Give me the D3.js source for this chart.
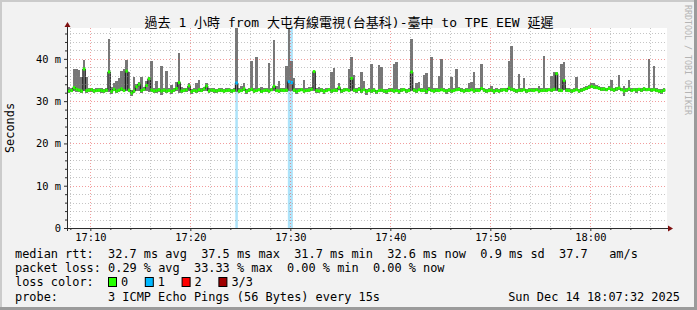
<!DOCTYPE html>
<html>
<head>
<meta charset="utf-8">
<script src="https://cdn.jsdelivr.net/npm/d3@7/dist/d3.min.js"></script>
<style>
  body { margin: 0; background: #f2f2f2; }
  svg { display: block; }
  text { font-family: "DejaVu Sans Mono", monospace; fill: #000; white-space: pre; }
</style>
</head>
<body>
<div id="viz"></div>
<script>
const colorSmoke = '#777777';
const colorAxis = '#2b2b2b';
const colorArrow = '#7f1010';
const colorGrid = 'rgba(140,140,140,0.5)';
const colorMGrid = 'rgba(230,60,60,0.5)';
const lossColors = ['#26ff00', '#00b8ff', '#ff0000', '#a00000'];
const lossBand = '#ade3fa';

// 240 samples, 15s apart, first one starts at 17:07:30
const medianRtt = [
  32.9, 32.4, 32.5, 33.2, 32.8, 32.6, 32.4, 37.6, 32.5, 32.6,
  32.7, 32.4, 32.5, 32.6, 32.5, 32.4, 32.6, 36.9, 32.3, 32.8,
  32.4, 32.6, 32.9, 32.5, 37.1, 32.6, 31.9, 32.4, 33.4, 34.0,
  32.5, 32.8, 33.7, 35.3, 32.6, 32.4, 32.5, 32.7, 32.4, 32.6,
  32.4, 32.5, 32.3, 32.6, 33.0, 34.4, 32.4, 32.5, 32.7, 33.6,
  32.3, 32.5, 32.4, 32.7, 32.5, 32.9, 33.6, 32.4, 32.6, 32.5,
  32.4, 32.6, 32.5, 32.4, 32.5, 32.6, 32.4, 32.5, 34.3, 32.4,
  32.5, 32.9, 32.3, 32.6, 32.8, 32.4, 32.5, 32.7, 32.3, 32.5,
  32.6, 32.4, 32.7, 33.5, 32.5, 32.4, 32.6, 32.5, 32.6, 34.6,
  34.4, 32.6, 32.3, 32.5, 32.7, 32.4, 32.5, 32.6, 32.8, 37.0,
  32.5, 32.4, 32.6, 32.3, 32.5, 32.7, 32.4, 32.6, 32.5, 33.2,
  32.4, 32.6, 32.7, 32.5, 35.4, 32.6, 32.5, 32.8, 32.4, 32.7,
  32.3, 32.5, 32.4, 32.6, 32.2, 32.5, 32.6, 32.4, 32.3, 32.5,
  32.6, 32.4, 32.5, 32.3, 32.6, 32.7, 32.4, 32.5, 36.9, 32.6,
  32.4, 32.7, 32.5, 32.6, 32.3, 32.8, 32.5, 32.4, 32.6, 32.5,
  32.7, 32.5, 32.4, 32.6, 32.4, 32.5, 32.7, 32.8, 32.5, 32.4,
  32.6, 32.5, 32.7, 32.4, 32.6, 32.5, 33.0, 32.6, 32.4, 32.5,
  32.6, 32.3, 32.5, 32.4, 32.6, 32.7, 32.5, 33.1, 32.8, 32.6,
  32.4, 32.6, 32.5, 32.7, 32.4, 32.5, 32.6, 32.5, 32.7, 32.4,
  32.5, 32.6, 32.5, 32.7, 32.6, 32.8, 36.5, 32.6, 32.5, 34.9,
  32.6, 32.5, 32.4, 32.5, 32.7, 32.4, 32.6, 32.8, 33.0, 33.3,
  33.5, 33.3, 33.2, 33.0, 32.8, 32.9, 32.7, 33.0, 32.8, 32.6,
  32.9, 33.1, 32.7, 32.4, 32.6, 32.9, 32.5, 32.7, 32.6, 32.8,
  32.6, 32.9, 32.7, 32.8, 32.6, 32.7, 32.5, 32.4, 32.3, 32.6
];

const minRtt = [
  32.3, 32.0, 32.1, 32.4, 32.2, 32.1, 31.9, 32.3, 32.0, 32.2,
  32.2, 31.9, 32.1, 32.2, 32.0, 31.9, 32.1, 32.2, 31.8, 32.3,
  32.0, 32.1, 32.4, 32.1, 32.3, 32.1, 31.3, 32.0, 32.4, 32.5,
  32.0, 32.3, 32.3, 32.2, 32.1, 31.9, 32.0, 32.2, 31.5, 32.1,
  32.0, 32.1, 31.8, 32.2, 32.4, 32.0, 31.9, 32.1, 32.2, 32.4,
  31.8, 32.1, 32.0, 32.2, 32.1, 32.4, 32.5, 32.0, 32.1, 32.0,
  32.0, 32.2, 32.1, 31.9, 32.1, 32.2, 32.0, 32.1, 32.2, 32.0,
  32.1, 32.4, 31.7, 32.2, 32.3, 32.0, 32.1, 32.3, 31.9, 32.1,
  32.2, 32.0, 32.3, 32.5, 32.1, 31.9, 32.2, 32.1, 32.2, 32.3,
  32.4, 32.2, 31.8, 32.1, 32.3, 32.0, 32.1, 32.2, 32.4, 32.5,
  32.0, 32.0, 32.2, 31.6, 32.1, 32.3, 32.0, 32.2, 32.1, 32.6,
  32.0, 32.2, 32.3, 32.1, 32.5, 32.2, 32.0, 32.4, 31.9, 32.3,
  31.5, 32.1, 32.0, 32.2, 31.6, 32.1, 32.2, 32.0, 31.8, 32.1,
  32.2, 32.0, 32.1, 31.7, 32.2, 32.3, 32.0, 32.1, 32.5, 32.2,
  32.0, 32.3, 32.1, 32.2, 31.8, 32.4, 32.1, 31.9, 32.2, 32.1,
  32.3, 32.1, 31.8, 32.2, 32.0, 32.1, 32.3, 32.4, 32.1, 31.9,
  32.2, 32.1, 32.3, 32.0, 32.2, 32.1, 32.6, 32.2, 31.9, 32.1,
  32.2, 31.6, 32.1, 32.0, 32.2, 32.3, 32.1, 32.6, 32.4, 32.2,
  32.0, 32.2, 32.1, 32.3, 31.9, 32.1, 32.2, 32.1, 32.3, 31.9,
  32.1, 32.2, 32.1, 32.3, 32.2, 32.4, 32.5, 32.2, 32.1, 32.6,
  32.2, 32.1, 32.0, 32.1, 32.3, 31.9, 32.2, 32.4, 32.6, 32.9,
  33.1, 32.9, 32.8, 32.6, 32.4, 32.5, 32.3, 32.6, 32.4, 32.2,
  32.5, 32.7, 32.3, 31.2, 32.2, 32.5, 32.1, 32.3, 31.9, 32.4,
  32.2, 32.5, 32.3, 32.4, 32.2, 32.3, 32.1, 31.9, 31.8, 32.2
];

const maxRtt = [
  35.3, 33.4, 33.0, 37.6, 37.6, 37.4, 35.7, 39.8, 35.6, 33.1,
  33.2, 32.9, 33.0, 33.1, 33.0, 32.9, 33.1, 44.7, 33.4, 34.2,
  34.8, 35.4, 37.2, 37.6, 39.8, 37.0, 32.6, 35.6, 34.0, 34.6,
  35.6, 33.3, 34.8, 35.8, 39.4, 33.0, 34.8, 33.2, 38.2, 33.2,
  37.1, 33.1, 33.8, 33.0, 34.5, 41.3, 33.4, 33.0, 33.2, 34.3,
  32.9, 33.0, 34.4, 35.0, 33.0, 33.3, 34.2, 33.0, 33.2, 33.0,
  32.9, 33.1, 33.0, 32.9, 33.0, 33.1, 32.9, 33.0, 47.3, 33.1,
  33.6, 34.4, 32.9, 33.1, 39.6, 33.0, 40.4, 33.2, 33.3, 33.0,
  33.1, 39.0, 33.2, 44.5, 33.6, 34.8, 33.2, 33.2, 38.2, 47.3,
  39.6, 35.4, 33.1, 33.0, 33.2, 34.9, 33.0, 33.3, 33.3, 37.2,
  33.0, 33.3, 33.1, 32.8, 33.0, 33.2, 37.0, 37.8, 33.1, 34.4,
  32.9, 33.1, 33.2, 37.6, 40.4, 36.2, 33.0, 33.3, 36.9, 34.7,
  32.8, 33.0, 38.9, 33.1, 32.7, 38.6, 38.0, 32.9, 32.8, 33.0,
  33.1, 38.9, 39.2, 32.8, 33.1, 33.2, 32.9, 33.0, 44.6, 33.1,
  34.4, 34.5, 33.0, 36.3, 36.6, 33.3, 40.4, 33.0, 33.1, 36.0,
  39.9, 33.0, 32.9, 33.1, 35.6, 33.0, 37.6, 33.3, 33.0, 32.9,
  33.1, 34.4, 34.5, 37.0, 33.1, 33.0, 38.7, 33.1, 32.9, 33.0,
  33.6, 32.8, 33.0, 32.9, 33.1, 33.2, 33.0, 39.6, 43.0, 33.1,
  32.9, 36.4, 33.0, 35.4, 32.9, 33.0, 33.1, 33.0, 33.2, 33.7,
  33.0, 40.7, 33.0, 33.2, 35.9, 36.9, 36.8, 33.1, 38.9, 39.2,
  33.1, 33.0, 32.9, 33.0, 35.6, 32.9, 33.1, 33.3, 33.5, 33.8,
  34.4, 34.2, 33.9, 33.5, 33.3, 33.4, 33.2, 33.5, 35.0, 33.1,
  33.4, 36.3, 33.2, 33.5, 33.1, 35.0, 33.0, 33.2, 33.1, 33.2,
  33.1, 33.4, 33.2, 39.9, 33.1, 38.2, 33.0, 32.9, 32.8, 33.1
];

// samples where 1 of 3 pings was lost
const lossOneSamples = [68, 89, 90];

const yTickValues = [0, 10, 20, 30, 40];
const yTickLabels = ['0', '10 m', '20 m', '30 m', '40 m'];

const titleText = '過去 1 小時 from 大屯有線電視(台基科)-臺中 to TPE EEW 延遲';
const legendRtt = 'median rtt:  32.7 ms avg  37.5 ms max  31.7 ms min  32.6 ms now  0.9 ms sd  37.7   am/s';
const legendLoss = 'packet loss: 0.29 % avg  33.33 % max  0.00 % min  0.00 % now';
const lossLabels = ['0', '1', '2', '3/3'];
const probeText = '3 ICMP Echo Pings (56 Bytes) every 15s';
const stampText = 'Sun Dec 14 18:07:32 2025';

function createViz() {

  const dimensions = {
    width: 697,
    height: 310,
    margin: { top: 28, left: 67 },
    boundedWidth: 600,
    boundedHeight: 200,
  };
  const x0 = dimensions.margin.left;
  const x1 = x0 + dimensions.boundedWidth;
  const yTop = dimensions.margin.top;
  const yBot = yTop + dimensions.boundedHeight;

  const svg = d3.select('#viz')
    .append('svg')
    .attr('width', dimensions.width)
    .attr('height', dimensions.height);

  // background + 3d frame
  svg.append('rect').attr('width', 697).attr('height', 310).attr('fill', '#f2f2f2');
  svg.append('path').attr('d', 'M0,0H697V2H2V310H0Z').attr('fill', '#cbcbcb');
  svg.append('path').attr('d', 'M697,0V310H0V307H694V0Z').attr('fill', '#9b9b9b');

  svg.append('rect')
    .attr('x', x0).attr('y', yTop)
    .attr('width', dimensions.boundedWidth).attr('height', dimensions.boundedHeight)
    .attr('fill', '#ffffff');

  // scales
  const tStart = new Date(2025, 11, 14, 17, 7, 40);
  const tEnd = new Date(2025, 11, 14, 18, 7, 40);
  const firstSample = new Date(2025, 11, 14, 17, 7, 30);
  const sampleTime = i => new Date(+firstSample + i * 15000);

  const xScale = d3.scaleTime().domain([tStart, tEnd]).range([x0, x1]);
  const yScale = d3.scaleLinear().domain([0, 47.3]).range([yBot, yTop]);

  svg.append('clipPath').attr('id', 'plot')
    .append('rect').attr('x', x0).attr('y', yTop)
    .attr('width', dimensions.boundedWidth).attr('height', dimensions.boundedHeight);

  const plot = svg.append('g').attr('clip-path', 'url(#plot)');

  // loss bands
  plot.selectAll('.lossband')
    .data(lossOneSamples)
    .join('rect')
    .attr('x', i => xScale(sampleTime(i)))
    .attr('width', i => xScale(sampleTime(i + 1)) - xScale(sampleTime(i)))
    .attr('y', yTop)
    .attr('height', dimensions.boundedHeight)
    .attr('fill', lossBand);

  // smoke
  const idx = d3.range(medianRtt.length);
  plot.selectAll('.smoke')
    .data(idx)
    .join('rect')
    .attr('x', i => xScale(sampleTime(i)))
    .attr('width', i => xScale(sampleTime(i + 1)) - xScale(sampleTime(i)))
    .attr('y', i => yScale(maxRtt[i]))
    .attr('height', i => yScale(minRtt[i]) - yScale(maxRtt[i]))
    .attr('fill', colorSmoke)
    .attr('shape-rendering', 'crispEdges');

  // median step line
  const stepPts = idx.map(i => [xScale(sampleTime(i)), yScale(medianRtt[i])]);
  stepPts.push([xScale(sampleTime(medianRtt.length)), yScale(medianRtt[medianRtt.length - 1])]);
  plot.append('path')
    .attr('d', d3.line().curve(d3.curveStepAfter)(stepPts))
    .attr('fill', 'none')
    .attr('stroke', '#111')
    .attr('stroke-width', 1);

  plot.selectAll('.median')
    .data(idx)
    .join('rect')
    .attr('x', i => xScale(sampleTime(i)))
    .attr('width', i => xScale(sampleTime(i + 1)) - xScale(sampleTime(i)))
    .attr('y', i => yScale(medianRtt[i]) - 1.5)
    .attr('height', 3)
    .attr('fill', i => lossOneSamples.includes(i) ? lossColors[1] : lossColors[0]);

  // grid
  const grid = svg.append('g').attr('shape-rendering', 'crispEdges');
  const minorTimes = d3.timeMinute.every(2).range(tStart, tEnd).filter(d => d.getMinutes() % 10 !== 0);
  const majorTimes = d3.timeMinute.every(10).range(tStart, tEnd);
  const minorY = d3.range(2, 47, 2).filter(v => v % 10 !== 0);
  const majorY = yTickValues.filter(v => v > 0);

  grid.selectAll('.vminor').data(minorTimes).join('line')
    .attr('x1', d => Math.round(xScale(d)) + 0.5).attr('x2', d => Math.round(xScale(d)) + 0.5)
    .attr('y1', yTop).attr('y2', yBot)
    .attr('stroke', colorGrid).attr('stroke-dasharray', '1,2');
  grid.selectAll('.hminor').data(minorY).join('line')
    .attr('y1', d => Math.round(yScale(d)) + 0.5).attr('y2', d => Math.round(yScale(d)) + 0.5)
    .attr('x1', x0).attr('x2', x1)
    .attr('stroke', colorGrid).attr('stroke-dasharray', '1,2');
  grid.selectAll('.vmajor').data(majorTimes).join('line')
    .attr('x1', d => Math.round(xScale(d)) + 0.5).attr('x2', d => Math.round(xScale(d)) + 0.5)
    .attr('y1', yTop).attr('y2', yBot)
    .attr('stroke', colorMGrid).attr('stroke-dasharray', '1,2');
  grid.selectAll('.hmajor').data(majorY).join('line')
    .attr('y1', d => Math.round(yScale(d)) + 0.5).attr('y2', d => Math.round(yScale(d)) + 0.5)
    .attr('x1', x0).attr('x2', x1)
    .attr('stroke', colorMGrid).attr('stroke-dasharray', '1,2');

  // axes
  const xAxis = svg.append('g')
    .attr('transform', `translate(0,${yBot})`)
    .call(d3.axisBottom(xScale).tickValues(majorTimes).tickFormat(d3.timeFormat('%H:%M')).tickSize(3).tickPadding(3))
    .attr('font-family', 'DejaVu Sans Mono').attr('font-size', 10.4);
  xAxis.select('.domain').remove();
  xAxis.selectAll('line').attr('stroke', colorAxis);

  svg.append('g')
    .attr('transform', `translate(0,${yBot})`)
    .call(d3.axisBottom(xScale).tickValues(minorTimes).tickFormat('').tickSize(2))
    .call(g => g.select('.domain').remove())
    .selectAll('line').attr('stroke', colorAxis);

  const yAxis = svg.append('g')
    .attr('transform', `translate(${x0},0)`)
    .call(d3.axisLeft(yScale).tickValues(yTickValues).tickFormat((d, i) => yTickLabels[i]).tickSize(3).tickPadding(3))
    .attr('font-family', 'DejaVu Sans Mono').attr('font-size', 10.4);
  yAxis.select('.domain').remove();
  yAxis.selectAll('line').attr('stroke', colorAxis);

  svg.append('g')
    .attr('transform', `translate(${x0},0)`)
    .call(d3.axisLeft(yScale).tickValues(minorY).tickFormat('').tickSize(2))
    .call(g => g.select('.domain').remove())
    .selectAll('line').attr('stroke', colorAxis);

  svg.append('line')
    .attr('x1', x0 - 3).attr('x2', x1 + 2).attr('y1', yBot + 0.5).attr('y2', yBot + 0.5)
    .attr('stroke', colorAxis);
  svg.append('line')
    .attr('x1', x0 + 0.5).attr('x2', x0 + 0.5).attr('y1', yBot + 3).attr('y2', yTop - 3)
    .attr('stroke', colorAxis);
  svg.append('path')
    .attr('d', `M${x1 + 1},${yBot - 2.5}L${x1 + 6},${yBot + 0.5}L${x1 + 1},${yBot + 3.5}Z`)
    .attr('fill', colorArrow);
  svg.append('path')
    .attr('d', `M${x0 - 2.5},${yTop - 1}L${x0 + 0.5},${yTop - 6}L${x0 + 3.5},${yTop - 1}Z`)
    .attr('fill', colorArrow);

  // y label
  svg.append('text')
    .attr('transform', `translate(14,${(yTop + yBot) / 2}) rotate(-90)`)
    .attr('text-anchor', 'middle')
    .attr('font-size', 11.9)
    .text('Seconds');

  // title
  svg.append('text')
    .attr('x', 349).attr('y', 26.5)
    .attr('text-anchor', 'middle')
    .attr('font-size', 13)
    .style('font-family', '"DejaVu Sans Mono", "Noto Sans CJK TC", monospace')
    .text(titleText);

  // watermark
  svg.append('text')
    .attr('transform', 'translate(685,5) rotate(90)')
    .attr('font-size', 8.3)
    .style('fill', '#b4b4b4')
    .text('RRDTOOL / TOBI OETIKER');

  // legend
  const legend = svg.append('g').attr('font-size', 11.9);
  legend.append('text').attr('x', 15).attr('y', 258).text(legendRtt);
  legend.append('text').attr('x', 15).attr('y', 272).text(legendLoss);
  legend.append('text').attr('x', 15).attr('y', 286).text('loss color:');
  legend.selectAll('.lossbox')
    .data(lossLabels)
    .join('rect')
    .attr('x', (d, i) => 108.5 + i * 36.8)
    .attr('y', 277.5)
    .attr('width', 8).attr('height', 9)
    .attr('fill', (d, i) => lossColors[i])
    .attr('stroke', '#000');
  legend.selectAll('.losslabel')
    .data(lossLabels)
    .join('text')
    .attr('x', (d, i) => 121 + i * 36.8)
    .attr('y', 286)
    .text(d => d);
  legend.append('text').attr('x', 15).attr('y', 301).text('probe:');
  legend.append('text').attr('x', 108).attr('y', 301).text(probeText);
  legend.append('text').attr('x', 680).attr('y', 301).attr('text-anchor', 'end').text(stampText);
}

createViz();
</script>
</body>
</html>
